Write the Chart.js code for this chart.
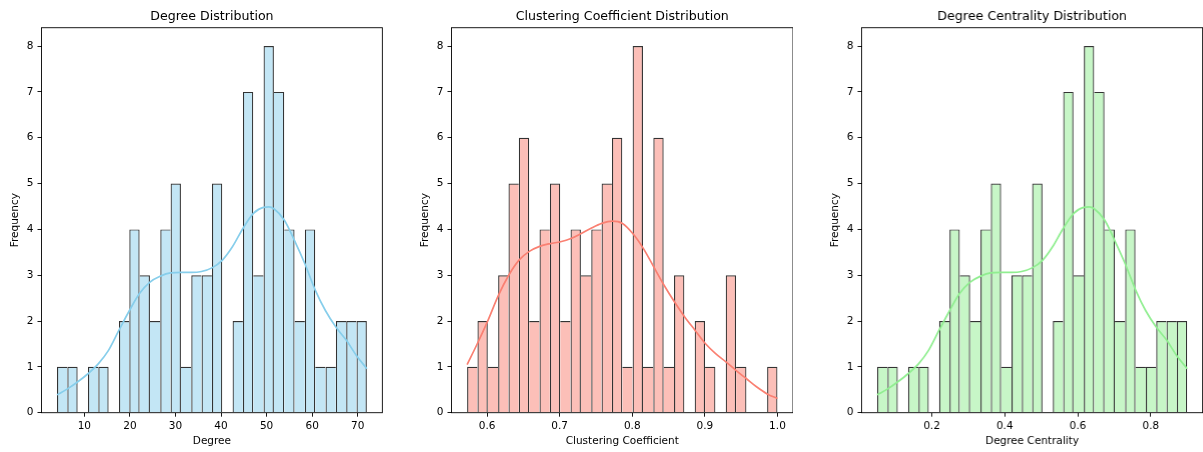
<!DOCTYPE html>
<html lang="en">
<head>
<meta charset="UTF-8">
<title>Distributions</title>
<script src="https://cdn.jsdelivr.net/npm/chart.js"></script>
<style>
  body { margin: 0; background: #fff; }
  .box { position: absolute; top: 0; height: 452px; }
</style>
</head>
<body>
<div class="box" id="b1" style="left:0px;width:383.2px"><canvas id="c1"></canvas></div>
<div class="box" id="b2" style="left:410.2px;width:383px"><canvas id="c2"></canvas></div>
<div class="box" id="b3" style="left:820.2px;width:382.5px"><canvas id="c3"></canvas></div>
<script>
// histogram counts (30 bins each)
const degreeCounts = [1,1,0,1,1,0,2,4,3,2,4,5,1,3,3,5,0,2,7,3,8,7,4,2,4,1,1,2,2,2];
const clusteringCounts = [1,2,1,3,5,6,2,4,5,2,4,3,4,5,6,1,8,1,6,1,3,0,2,1,0,3,1,0,0,1];
const centralityCounts = [1,1,0,1,1,0,2,4,3,2,4,5,1,3,3,5,0,2,7,3,8,7,4,2,4,1,1,2,2,2];

// bin range (first edge, last edge)
const degreeBins = [4, 72];
const clusteringBins = [0.5725, 1.0];
const centralityBins = [0.05, 0.9];

// kde curves
const degreeKdeX = [4,6.3,8.5,10.8,13.1,15.3,17.6,19.9,22.1,24.4,26.7,28.9,31.2,33.5,35.7,38,40.3,42.5,44.8,47.1,49.3,50.5,51.6,53.9,56.1,58.4,60.7,62.9,65.2,67.5,69.7,72];
const degreeKdeY = [0.39,0.52,0.67,0.85,1.07,1.36,1.80,2.23,2.60,2.85,2.98,3.05,3.06,3.06,3.08,3.16,3.33,3.62,4.02,4.35,4.48,4.49,4.45,4.20,3.76,3.25,2.67,2.23,1.87,1.58,1.25,0.96];
const clusteringKdeX = [0.5725,0.5867,0.6014,0.6156,0.6298,0.644,0.6582,0.6724,0.6871,0.7013,0.7155,0.7297,0.7439,0.7581,0.7723,0.7865,0.8007,0.8154,0.8296,0.8438,0.858,0.8722,0.8864,0.9006,0.9148,0.929,0.9432,0.9574,0.9716,0.9858,1.0];
const clusteringKdeY = [1.05,1.51,2.02,2.56,3.00,3.33,3.52,3.63,3.69,3.73,3.80,3.91,4.03,4.13,4.18,4.13,3.91,3.58,3.18,2.78,2.42,2.09,1.80,1.51,1.29,1.11,0.92,0.74,0.56,0.41,0.31];
const centralityKdeX = [0.05,0.079,0.106,0.135,0.164,0.191,0.22,0.249,0.276,0.305,0.334,0.361,0.39,0.419,0.446,0.475,0.504,0.531,0.56,0.589,0.616,0.631,0.645,0.674,0.701,0.73,0.759,0.786,0.815,0.844,0.871,0.9];
const centralityKdeY = [0.39,0.52,0.67,0.85,1.07,1.36,1.80,2.23,2.60,2.85,2.98,3.05,3.06,3.06,3.08,3.16,3.33,3.62,4.02,4.35,4.48,4.49,4.45,4.20,3.76,3.25,2.67,2.23,1.87,1.58,1.25,0.96];

// axis ticks
const degreeTicks = [10,20,30,40,50,60,70];
const degreeTickLabels = ['10','20','30','40','50','60','70'];
const clusteringTicks = [0.6,0.7,0.8,0.9,1.0];
const clusteringTickLabels = ['0.6','0.7','0.8','0.9','1.0'];
const centralityTicks = [0.2,0.4,0.6,0.8];
const centralityTickLabels = ['0.2','0.4','0.6','0.8'];
const freqTicks = [0,1,2,3,4,5,6,7,8];

const FONT = 'DejaVu Sans';

// full box around the plot area, like matplotlib spines
const spines = {
    id: 'spines',
    afterDatasetsDraw(chart) {
        const a = chart.chartArea, ctx = chart.ctx;
        ctx.save();
        ctx.strokeStyle = '#000';
        ctx.lineWidth = 0.9;
        ctx.strokeRect(a.left, a.top, a.right - a.left, a.bottom - a.top);
        ctx.restore();
    }
};

function histo(id, opts) {
    const counts = opts.counts;
    const w = (opts.bins[1] - opts.bins[0]) / counts.length;
    const bars = counts.map((c, i) => ({ x: opts.bins[0] + (i + 0.5) * w, y: c }));
    const kde = opts.kdeX.map((x, i) => ({ x: x, y: opts.kdeY[i] }));

    new Chart(document.getElementById(id), {
        type: 'bar',
        data: {
            datasets: [{
                type: 'line',
                data: kde,
                borderColor: opts.line,
                borderWidth: 1.7,
                pointRadius: 0,
                cubicInterpolationMode: 'monotone',
                order: 0
            }, {
                type: 'bar',
                data: bars,
                backgroundColor: opts.fill,
                borderColor: 'rgba(0,0,0,0.8)',
                borderSkipped: false,
                inflateAmount: 0,
                barPercentage: 1,
                categoryPercentage: 1,
                borderWidth: ctx => {
                    const i = ctx.dataIndex, c = counts[i];
                    if (!c) return 0;
                    const prev = i > 0 ? counts[i - 1] : 0;
                    const next = i < counts.length - 1 ? counts[i + 1] : 0;
                    return { top: 1.2, bottom: 0, left: prev <= c ? 1.2 : 0, right: next < c ? 1.2 : 0 };
                },
                order: 1
            }]
        },
        options: {
            responsive: true,
            maintainAspectRatio: false,
            animation: false,
            layout: { padding: 0 },
            plugins: {
                legend: { display: false },
                tooltip: { enabled: false },
                title: {
                    display: true,
                    fullSize: false,
                    text: opts.title,
                    color: '#000',
                    font: { family: FONT, size: 12.6, weight: 'normal' },
                    padding: { top: 9, bottom: 3.6 }
                }
            },
            scales: {
                x: {
                    type: 'linear',
                    min: opts.range[0],
                    max: opts.range[1],
                    offset: false,
                    border: { display: false },
                    grid: { offset: false, drawOnChartArea: false, drawTicks: true, tickLength: 4, tickColor: '#000', lineWidth: 0.9 },
                    afterBuildTicks: s => { s.ticks = opts.ticks.map(v => ({ value: v })); },
                    ticks: {
                        color: '#000',
                        padding: 3,
                        maxRotation: 0,
                        font: { family: FONT, size: 10.5 },
                        callback: (v, i) => opts.tickLabels[i]
                    },
                    title: {
                        display: true,
                        text: opts.xLabel,
                        color: '#000',
                        font: { family: FONT, size: 10.5 },
                        padding: { top: 0, bottom: 4.2 }
                    },
                    afterFit: s => { s.height = 39.3; }
                },
                y: {
                    type: 'linear',
                    min: 0,
                    max: 8.4,
                    border: { display: false },
                    grid: { drawOnChartArea: false, drawTicks: true, tickLength: 4, tickColor: '#000', lineWidth: 0.9 },
                    afterBuildTicks: s => { s.ticks = freqTicks.map(v => ({ value: v })); },
                    ticks: {
                        color: '#000',
                        padding: 4,
                        font: { family: FONT, size: 10.5 },
                        callback: v => String(v)
                    },
                    title: {
                        display: true,
                        text: 'Frequency',
                        color: '#000',
                        font: { family: FONT, size: 10.5 },
                        padding: { top: 8.7, bottom: 0 }
                    },
                    afterFit: s => { s.width = 41.5; }
                }
            }
        },
        plugins: [spines]
    });
}

histo('c1', {
    title: 'Degree Distribution', xLabel: 'Degree',
    counts: degreeCounts, bins: degreeBins, kdeX: degreeKdeX, kdeY: degreeKdeY,
    range: [0.6, 75.4], ticks: degreeTicks, tickLabels: degreeTickLabels,
    fill: 'rgba(135,206,235,0.5)', line: '#87CEEB'
});
histo('c2', {
    title: 'Clustering Coefficient Distribution', xLabel: 'Clustering Coefficient',
    counts: clusteringCounts, bins: clusteringBins, kdeX: clusteringKdeX, kdeY: clusteringKdeY,
    range: [0.551, 1.0214], ticks: clusteringTicks, tickLabels: clusteringTickLabels,
    fill: 'rgba(250,128,114,0.5)', line: '#FA8072'
});
histo('c3', {
    title: 'Degree Centrality Distribution', xLabel: 'Degree Centrality',
    counts: centralityCounts, bins: centralityBins, kdeX: centralityKdeX, kdeY: centralityKdeY,
    range: [0.0075, 0.9425], ticks: centralityTicks, tickLabels: centralityTickLabels,
    fill: 'rgba(144,238,144,0.5)', line: '#90EE90'
});
</script>
</body>
</html>
